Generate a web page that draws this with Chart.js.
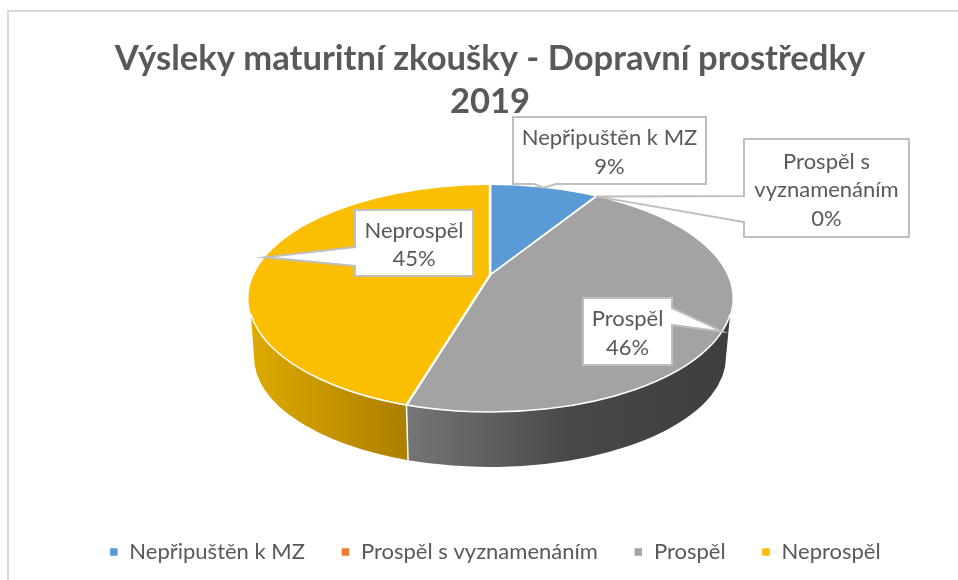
<!DOCTYPE html>
<html><head><meta charset="utf-8">
<style>html,body{margin:0;padding:0;background:#fff;overflow:hidden}canvas{display:block}</style>
<script src="https://cdn.jsdelivr.net/npm/chart.js@4"></script>
</head><body>
<canvas id="c" width="958" height="580"></canvas>
<script>
const titleLines = ['Výsleky maturitní zkoušky - Dopravní prostředky', '2019'];
const categories = ['Nepřipuštěn k MZ', 'Prospěl s vyznamenáním', 'Prospěl', 'Neprospěl'];
const values = [9.45, 0, 45.5, 45.05];
const colors = ['#5B9BD5', '#ED7D31', '#A3A3A3', '#FBBE00'];
const labelLines = [['Nepřipuštěn k MZ'], ['Prospěl s', 'vyznamenáním'], ['Prospěl'], ['Neprospěl']];

const INK = '#595959', EDGE = '#BFBFBF';
const TOP = {cx: 490.5, cy: 298.5, rx: 242, ry: 113.5};
const LOW = {cx: 490, cy: 357, rx: 236, ry: 110};
const APEX = {x: 490, y: 275};
const SQUASH = 0.5, REACH = 320, WALL_INSET = 0.14;
const wallStops = [null, null,
  [[411, '#747474'], [570, '#484848'], [730, '#3E3E3E']],
  [[250, '#DFAA00'], [411, '#AB7E00']]];
const callouts = [
  {box: [513, 117, 706, 184], side: 'bottom', base: [534, 556]},
  {box: [744, 139, 909, 237], side: 'left', base: [196, 222]},
  {box: [583, 298, 672, 365], side: 'right', base: [308, 325]},
  {box: [355, 210, 473, 276], side: 'left', base: [247, 266]}
];

function ellipsePoint(angle) {
  const dx = Math.cos(angle), dy = Math.sin(angle) * SQUASH;
  const ox = (APEX.x - TOP.cx) / TOP.rx, oy = (APEX.y - TOP.cy) / TOP.ry;
  const ux = dx / TOP.rx, uy = dy / TOP.ry;
  const a = ux * ux + uy * uy, b = 2 * (ox * ux + oy * uy), c = ox * ox + oy * oy - 1;
  const t = (-b + Math.sqrt(b * b - 4 * a * c)) / (2 * a);
  return {x: APEX.x + t * dx, y: APEX.y + t * dy};
}
function ellipseParam(p) {
  let t = Math.atan2((p.y - TOP.cy) / TOP.ry, (p.x - TOP.cx) / TOP.rx);
  return t < -Math.PI / 2 ? t + 2 * Math.PI : t;
}

const pie3d = {
  id: 'pie3d',
  afterLayout(chart) {
    chart.legend.left += 5;
    chart.legend.right += 5;
  },
  beforeDraw(chart) {
    const {ctx} = chart;
    ctx.save();
    ctx.fillStyle = '#D9D9D9';
    ctx.fillRect(8, 10, 950, 2);
    ctx.fillRect(7, 10, 2, 570);
    ctx.restore();
  },
  beforeDatasetsDraw(chart) {
    const {ctx} = chart;
    const arcs = chart.getDatasetMeta(0).data;
    arcs.forEach((arc, i) => {
      if (!wallStops[i]) return;
      const t0 = Math.max(ellipseParam(ellipsePoint(arc.startAngle)), WALL_INSET);
      const t1 = Math.min(ellipseParam(ellipsePoint(arc.endAngle)), Math.PI - WALL_INSET);
      if (t1 <= t0) return;
      const b0 = t0 <= WALL_INSET ? 0 : t0, b1 = t1 >= Math.PI - WALL_INSET ? Math.PI : t1;
      const g = ctx.createLinearGradient(wallStops[i][0][0], 0, wallStops[i][wallStops[i].length - 1][0], 0);
      const span = wallStops[i][wallStops[i].length - 1][0] - wallStops[i][0][0];
      wallStops[i].forEach(s => g.addColorStop((s[0] - wallStops[i][0][0]) / span, s[1]));
      ctx.save();
      ctx.beginPath();
      ctx.ellipse(TOP.cx, TOP.cy, TOP.rx, TOP.ry, 0, t0, t1);
      ctx.ellipse(LOW.cx, LOW.cy, LOW.rx, LOW.ry, 0, b1, b0, true);
      ctx.closePath();
      ctx.fillStyle = g;
      ctx.fill();
      if (t0 > WALL_INSET) {
        ctx.beginPath();
        ctx.moveTo(TOP.cx + TOP.rx * Math.cos(t0), TOP.cy + TOP.ry * Math.sin(t0));
        ctx.lineTo(LOW.cx + LOW.rx * Math.cos(b0), LOW.cy + LOW.ry * Math.sin(b0));
        ctx.strokeStyle = '#fff';
        ctx.lineWidth = 1.5;
        ctx.stroke();
      }
      ctx.restore();
    });
    const a = arcs[0], k = REACH / a.outerRadius;
    ctx.save();
    ctx.beginPath();
    ctx.ellipse(TOP.cx, TOP.cy, TOP.rx, TOP.ry, 0, 0, Math.PI * 2);
    ctx.clip();
    ctx.translate(APEX.x, APEX.y);
    ctx.scale(k, k * SQUASH);
    ctx.translate(-a.x, -a.y);
  },
  afterDatasetsDraw(chart) {
    const {ctx} = chart;
    ctx.restore();
    ctx.save();
    ctx.beginPath();
    ctx.ellipse(TOP.cx, TOP.cy, TOP.rx, TOP.ry, 0, 0.14, Math.PI - 0.14);
    ctx.strokeStyle = '#fff';
    ctx.lineWidth = 1.5;
    ctx.stroke();
    ctx.restore();

    const arcs = chart.getDatasetMeta(0).data;
    const total = values.reduce((s, v) => s + v, 0);
    callouts.forEach((c, i) => {
      const arc = arcs[i];
      const tip = ellipsePoint((arc.startAngle + arc.endAngle) / 2);
      const [x0, y0, x1, y1] = c.box, [p, q] = c.base;
      ctx.save();
      ctx.beginPath();
      ctx.moveTo(x0, y0);
      ctx.lineTo(x1, y0);
      if (c.side === 'right') { ctx.lineTo(x1, p); ctx.lineTo(tip.x, tip.y); ctx.lineTo(x1, q); }
      ctx.lineTo(x1, y1);
      if (c.side === 'bottom') { ctx.lineTo(q, y1); ctx.lineTo(tip.x, tip.y); ctx.lineTo(p, y1); }
      ctx.lineTo(x0, y1);
      if (c.side === 'left') { ctx.lineTo(x0, q); ctx.lineTo(tip.x, tip.y); ctx.lineTo(x0, p); }
      ctx.closePath();
      ctx.fillStyle = '#fff';
      ctx.fill();
      ctx.strokeStyle = EDGE;
      ctx.lineWidth = 2;
      ctx.stroke();
      const lines = labelLines[i].concat(Math.round(values[i] / total * 100) + '%');
      ctx.fillStyle = INK;
      ctx.font = '22px Lato';
      ctx.textAlign = 'center';
      ctx.textBaseline = 'middle';
      const mx = (x0 + x1) / 2, my = (y0 + y1) / 2 + 2, lh = 28.5;
      lines.forEach((l, n) => ctx.fillText(l, mx, my + (n - (lines.length - 1) / 2) * lh));
      ctx.restore();
    });
  }
};

new Chart(document.getElementById('c'), {
  type: 'pie',
  data: {
    labels: categories,
    datasets: [{data: values, backgroundColor: colors, borderColor: '#fff', borderWidth: 1.5, clip: false}]
  },
  plugins: [pie3d],
  options: {
    responsive: false,
    animation: false,
    layout: {padding: {top: 37, left: 22, bottom: 7}},
    plugins: {
      tooltip: {enabled: false},
      title: {
        display: true, text: titleLines, color: INK,
        font: {family: 'Lato', size: 34.6, weight: 'bold', lineHeight: 1.25},
        padding: {top: 0, bottom: 0}
      },
      legend: {
        position: 'bottom',
        labels: {
          color: INK, boxWidth: 9, boxHeight: 9, padding: 36,
          font: {family: 'Lato', size: 22}
        }
      }
    }
  }
});
</script>
</body></html>
